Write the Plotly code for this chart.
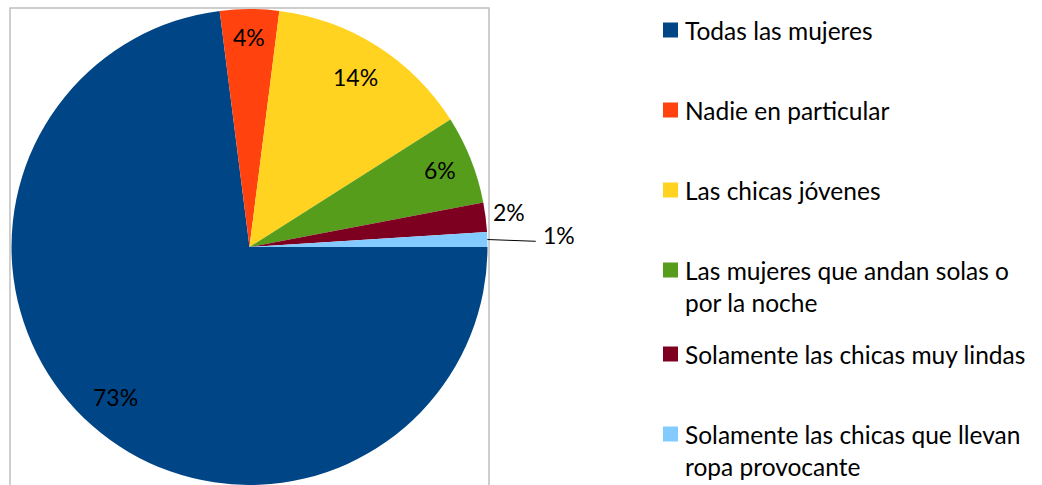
import math
import plotly.graph_objects as go

categories = [
    "Todas las mujeres",
    "Nadie en particular",
    "Las chicas jóvenes",
    "Las mujeres que andan solas o<br>por la noche",
    "Solamente las chicas muy lindas",
    "Solamente las chicas que llevan<br>ropa provocante",
]
values = [73, 4, 14, 6, 2, 1]
colors = ["#004586", "#FF420E", "#FFD320", "#579D1C", "#7E0021", "#83CAFF"]
# radial position of each percentage label, as a fraction of the pie radius
label_radius = [0.85, 0.875, 0.835, 0.86, 1.10, 1.30]

W, H = 1042, 485
FONT = "Lato"
ROTATION = 90  # first slice starts at 3 o'clock, clockwise

# pie placement (pixels)
DX0, DX1 = 10, 489
DY0, DY1 = 9, 485

# legend layout (pixels)
LEG_SYM_X0, LEG_SYM_SIZE = 663, 15
LEG_TEXT_X = 683
LEG_FIRST_Y = 30      # centre of first text line of the first entry
LEG_STEP = 80         # step between entries
LEG_EXTRA = 4         # extra step after a two-line entry
LEG_FONT = 24.5

fig = go.Figure(
    go.Pie(
        labels=[c.replace("<br>", " ") for c in categories],
        values=values,
        sort=False,
        direction="clockwise",
        rotation=ROTATION,
        marker=dict(colors=colors, line=dict(width=0)),
        textposition="none",
        domain=dict(x=[DX0 / W, DX1 / W], y=[1 - DY1 / H, 1 - DY0 / H]),
        hoverinfo="label+percent",
        showlegend=False,
    )
)

# percentage labels placed along each slice's mid angle (computed from data)
cx = (DX0 + DX1) / 2
cy = (DY0 + DY1) / 2
R = min(DX1 - DX0, DY1 - DY0) / 2
total = sum(values)
annotations = []
shapes = [
    dict(
        type="rect", xref="paper", yref="paper",
        x0=10 / W, x1=489 / W, y0=-0.1, y1=1 - 8 / H,
        line=dict(color="#BFBFBF", width=1.5),
        layer="below",
    )
]
cum = 0.0
for i, v in enumerate(values):
    mid = ROTATION + (cum + v / 2) / total * 360.0
    cum += v
    a = math.radians(mid)
    r = label_radius[i] * R
    px = cx + r * math.sin(a)
    py = cy - r * math.cos(a)
    pct = f"{round(v / total * 100)}%"
    annotations.append(
        dict(
            x=px / W, y=1 - py / H, xref="paper", yref="paper",
            text=pct, showarrow=False, yshift=2,
            font=dict(family=FONT, size=23, color="black"),
            xanchor="center", yanchor="middle",
        )
    )
    if label_radius[i] > 1.2:
        ex = cx + R * math.sin(a)
        ey = cy - R * math.cos(a)
        shapes.append(
            dict(
                type="line", xref="paper", yref="paper",
                x0=ex / W, y0=1 - ey / H,
                x1=(px - 23) / W, y1=1 - (py + 4) / H,
                line=dict(color="black", width=1),
            )
        )

# legend: coloured square + label for each category
ly = LEG_FIRST_Y
lh = LEG_FONT * 1.3
for cat, col in zip(categories, colors):
    shapes.append(
        dict(
            type="rect", xref="paper", yref="paper",
            x0=LEG_SYM_X0 / W, x1=(LEG_SYM_X0 + LEG_SYM_SIZE) / W,
            y0=1 - (ly + LEG_SYM_SIZE / 2) / H, y1=1 - (ly - LEG_SYM_SIZE / 2) / H,
            fillcolor=col, line=dict(width=0),
        )
    )
    annotations.append(
        dict(
            x=LEG_TEXT_X / W, y=1 - (ly - lh / 2) / H, xref="paper", yref="paper",
            text=cat, showarrow=False, align="left",
            font=dict(family=FONT, size=LEG_FONT, color="black"),
            xanchor="left", yanchor="top",
        )
    )
    ly += LEG_STEP + (LEG_EXTRA if "<br>" in cat else 0)

fig.update_layout(
    width=W,
    height=H,
    margin=dict(l=0, r=0, t=0, b=0),
    paper_bgcolor="white",
    annotations=annotations,
    shapes=shapes,
)

fig.write_html(
    "out.html",
    config={"displayModeBar": False},
    post_script="document.body.style.margin='0';document.body.style.overflow='hidden';",
)
